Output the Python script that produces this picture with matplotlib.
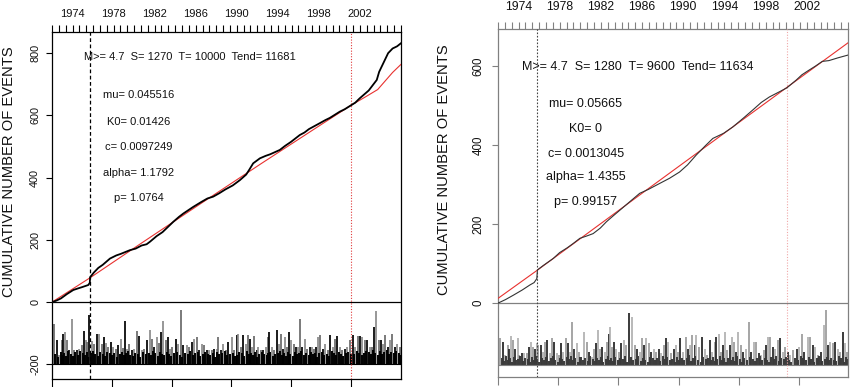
import matplotlib
matplotlib.use('Agg')
import matplotlib.pyplot as plt
import numpy as np

plt.rcParams['font.family'] = ['Liberation Sans', 'DejaVu Sans']

# ---------------- data: left panel ----------------
left_tend = 11681
left_S = 1270
left_T = 10000
left_t0 = 1973.0
left_header = "M>= 4.7  S= 1270  T= 10000  Tend= 11681"
left_params = ["mu= 0.045516", "K0= 0.01426", "c= 0.0097249", "alpha= 1.1792", "p= 1.0764"]

left_obs_day = [0, 150, 300, 500, 712, 900, 1000, 1214, 1265, 1275, 1400, 1550, 1700, 1940,
                2150, 2300, 2609, 2800, 3000, 3167, 3278, 3500, 3700, 4058, 4250, 4400, 4727,
                5000, 5200, 5396, 5600, 5800, 6050, 6288, 6500, 6600, 6733, 6957, 7150, 7300,
                7625, 7800, 8000, 8294, 8450, 8600, 8963, 9150, 9300, 9632, 9800, 10000, 10150,
                10300, 10600, 10870, 10950, 11050, 11250, 11400, 11550, 11681]
left_obs_cnt = [0, 5, 12, 26, 39, 45, 48, 55, 62, 80, 95, 110, 120, 140,
                150, 155, 167, 172, 182, 186, 194, 212, 225, 258, 274, 285, 306,
                322, 333, 339, 350, 362, 375, 392, 410, 425, 446, 462, 470, 475,
                489, 502, 515, 537, 545, 556, 575, 585, 592, 612, 620, 632, 641,
                655, 680, 714, 740, 760, 800, 815, 822, 832]
left_mod_day = [0, 1270, 3000, 5000, 7000, 9000, 10000, 10500, 10900, 11100, 11400, 11681]
left_mod_cnt = [0, 78, 190, 318, 445, 570, 632, 660, 683, 705, 738, 764]

left_bar_day = [67, 156, 245, 323, 379, 435, 490, 569, 669, 736,
                825, 914, 992, 1070, 1137, 1182, 1249, 1327, 1405, 1494,
                1583, 1661, 1739, 1806, 1884, 1973, 2052, 2130, 2219, 2297,
                2364, 2431, 2498, 2587, 2665, 2743, 2832, 2910, 2999, 3077,
                3189, 3278, 3345, 3423, 3501, 3590, 3646, 3724, 3802, 3869,
                3947, 4025, 4148, 4226, 4315, 4393, 4505, 4594, 4672, 4750,
                4839, 4917, 5006, 5084, 5174, 5263, 5341, 5419, 5508, 5564,
                5642, 5731, 5820, 5898, 6009, 6098, 6176, 6232, 6310, 6399,
                6477, 6544, 6622, 6700, 6767, 6845, 6901, 6990, 7068, 7146,
                7213, 7269, 7347, 7436, 7514, 7592, 7659, 7737, 7793, 7882,
                7938, 8016, 8094, 8183, 8239, 8317, 8384, 8462, 8551, 8629,
                8707, 8774, 8852, 8908, 8986, 9075, 9153, 9243, 9321, 9410,
                9488, 9555, 9633, 9711, 9800, 9878, 9967, 10079, 10157, 10246,
                10324, 10391, 10469, 10558, 10636, 10714, 10781, 10859, 10937, 11004,
                11082, 11160, 11250, 11328, 11394, 11473, 11562, 11640]
left_bar_top = [-71, -122, -170, -122, -101, -95, -122, -154, -55, -154,
                -154, -152, -138, -93, -122, -127, -42, -124, -133, -101,
                -104, -133, -111, -131, -143, -127, -143, -149, -138, -117,
                -147, -60, -149, -133, -154, -149, -93, -109, -154, -149,
                -122, -88, -117, -143, -111, -131, -95, -61, -122, -111,
                -149, -143, -117, -133, -26, -138, -138, -143, -127, -117,
                -111, -154, -133, -138, -154, -154, -154, -149, -149, -111,
                -154, -133, -154, -127, -111, -154, -106, -101, -143, -106,
                -133, -106, -117, -143, -109, -154, -143, -154, -154, -143,
                -111, -95, -143, -154, -88, -133, -101, -149, -111, -143,
                -95, -122, -133, -143, -143, -55, -143, -120, -149, -143,
                -143, -149, -143, -111, -106, -149, -133, -154, -106, -143,
                -117, -109, -143, -154, -149, -143, -122, -106, -143, -109,
                -109, -111, -122, -122, -143, -143, -79, -28, -122, -122,
                -133, -106, -143, -122, -101, -143, -133, -143]
left_small_day = [110, 200, 285, 350, 405, 460, 530, 620, 700, 780,
                  870, 950, 1030, 1100, 1160, 1215, 1290, 1365, 1450, 1540,
                  1620, 1700, 1770, 1845, 1930, 2010, 2090, 2175, 2260, 2330,
                  2400, 2465, 2540, 2625, 2705, 2790, 2870, 2955, 3040, 3130,
                  3235, 3310, 3385, 3460, 3545, 3620, 3685, 3765, 3835, 3910,
                  3985, 4085, 4185, 4270, 4355, 4450, 4550, 4635, 4710, 4795,
                  4880, 4960, 5045, 5130, 5220, 5300, 5380, 5465, 5535, 5600,
                  5685, 5775, 5860, 5950, 6050, 6140, 6205, 6270, 6355, 6440,
                  6510, 6585, 6660, 6735, 6805, 6875, 6945, 7030, 7105, 7180,
                  7240, 7310, 7390, 7475, 7555, 7625, 7700, 7765, 7840, 7910,
                  7975, 8055, 8140, 8210, 8280, 8350, 8425, 8505, 8590, 8670,
                  8740, 8815, 8880, 8945, 9030, 9115, 9200, 9280, 9365, 9450,
                  9520, 9595, 9670, 9755, 9840, 9920, 10020, 10120, 10200, 10285,
                  10360, 10430, 10515, 10600, 10675, 10750, 10820, 10900, 10970, 11045,
                  11120, 11205, 11290, 11360, 11435, 11520, 11600, 11665]
left_small_top = [-168, -175, -160, -170, -163, -172, -158, -166, -174, -161,
                  -169, -157, -165, -171, -160, -176, -163, -158, -168, -172,
                  -161, -167, -174, -159, -165, -170, -162, -177, -166, -160,
                  -171, -164, -158, -169, -173, -162, -166, -175, -160, -168,
                  -163, -171, -157, -165, -174, -161, -168, -170, -159, -166,
                  -172, -163, -160, -169, -175, -162, -167, -158, -171, -165,
                  -161, -173, -166, -159, -168, -170, -163, -176, -160, -167,
                  -164, -158, -171, -166, -162, -174, -169, -160, -165, -172,
                  -158, -167, -163, -170, -161, -175, -166, -159, -168, -171,
                  -164, -160, -173, -167, -162, -158, -169, -165, -172, -161,
                  -166, -174, -160, -168, -163, -157, -170, -165, -171, -159,
                  -167, -162, -175, -164, -160, -169, -166, -172, -158, -165,
                  -170, -161, -167, -173, -163, -159, -168, -166, -156, -162,
                  -171, -165, -158, -160, -167, -155, -163, -170, -158, -166,
                  -161, -154, -168, -160, -165, -157, -163, -170]

# ---------------- data: right panel ----------------
right_tend = 11634
right_S = 1280
right_T = 9600
right_t0 = 1973.2
right_header = "M>= 4.7  S= 1280  T= 9600  Tend= 11634"
right_params = ["mu= 0.05665", "K0= 0", "c= 0.0013045", "alpha= 1.4355", "p= 0.99157"]

right_obs_day = [0, 250, 508, 800, 1061, 1200, 1290, 1310, 1500, 1835, 2050, 2300, 2500,
                 2720, 2950, 3162, 3400, 3604, 3800, 4046, 4400, 4710, 5000, 5373, 5700,
                 6036, 6300, 6590, 6900, 7142, 7500, 7805, 8150, 8469, 8750, 9022, 9353,
                 9600, 9917, 10100, 10300, 10550, 10780, 11000, 11300, 11634]
right_obs_cnt = [0, 9, 20, 33, 46, 52, 62, 84, 95, 113, 128, 140, 151,
                 164, 170, 176, 190, 206, 219, 235, 258, 278, 288, 303, 316,
                 332, 350, 375, 399, 417, 430, 446, 468, 489, 508, 522, 535,
                 545, 565, 578, 588, 600, 612, 614, 621, 628]
right_mod_day = [0, 1300, 5000, 9600, 11634]
right_mod_cnt = [12, 83, 290, 546, 659]

right_bar_day = [66, 177, 232, 321, 365, 431, 487, 564, 652, 708,
                 785, 874, 951, 1029, 1095, 1172, 1228, 1283, 1338, 1416,
                 1504, 1560, 1637, 1725, 1803, 1869, 1947, 2024, 2090, 2168,
                 2245, 2311, 2389, 2466, 2533, 2610, 2688, 2754, 2865, 2942,
                 3019, 3108, 3196, 3274, 3329, 3395, 3462, 3550, 3628, 3683,
                 3738, 3805, 3860, 3937, 4015, 4103, 4181, 4247, 4358, 4457,
                 4546, 4623, 4712, 4789, 4855, 4933, 5010, 5099, 5176, 5265,
                 5342, 5431, 5508, 5574, 5652, 5760, 5838, 5904, 5982, 6059,
                 6147, 6236, 6313, 6391, 6457, 6535, 6590, 6678, 6789, 6866,
                 6944, 7032, 7121, 7198, 7253, 7331, 7419, 7475, 7552, 7618,
                 7696, 7784, 7840, 7917, 7994, 8061, 8138, 8227, 8337, 8415,
                 8503, 8581, 8669, 8747, 8835, 8912, 8979, 9045, 9134, 9211,
                 9300, 9377, 9465, 9543, 9631, 9709, 9797, 9941, 10018, 10107,
                 10184, 10295, 10372, 10461, 10549, 10627, 10737, 10826, 10903, 10959,
                 11036, 11124, 11202, 11290, 11368, 11456, 11534, 11589]
right_bar_top = [-89, -98, -132, -106, -115, -83, -94, -115, -89, -132,
                 -127, -127, -127, -111, -98, -111, -115, -102, -106, -106,
                 -123, -98, -94, -127, -89, -98, -127, -132, -102, -123,
                 -89, -102, -123, -47, -115, -102, -123, -136, -73, -98,
                 -123, -136, -115, -102, -68, -115, -111, -123, -98, -77,
                 -60, -111, -98, -115, -123, -102, -94, -106, -26, -35,
                 -106, -115, -123, -89, -106, -89, -102, -123, -115, -123,
                 -115, -127, -106, -89, -98, -127, -115, -106, -123, -89,
                 -123, -85, -115, -106, -81, -106, -81, -111, -85, -115,
                 -132, -94, -123, -98, -85, -77, -123, -106, -73, -119,
                 -106, -85, -98, -123, -73, -106, -123, -115, -47, -123,
                 -98, -98, -127, -132, -119, -106, -87, -85, -111, -115,
                 -94, -89, -123, -111, -123, -132, -119, -115, -111, -77,
                 -123, -85, -85, -106, -111, -132, -123, -56, -18, -106,
                 -98, -102, -98, -115, -123, -73, -102, -123]
right_small_day = [120, 205, 275, 345, 400, 460, 525, 610, 680, 745,
                   830, 910, 990, 1060, 1135, 1200, 1255, 1310, 1375, 1460,
                   1530, 1600, 1680, 1765, 1835, 1910, 1985, 2055, 2130, 2205,
                   2280, 2350, 2430, 2500, 2570, 2650, 2720, 2810, 2905, 2980,
                   3065, 3150, 3235, 3300, 3360, 3430, 3505, 3590, 3655, 3710,
                   3770, 3830, 3900, 3975, 4060, 4140, 4215, 4300, 4410, 4500,
                   4585, 4665, 4750, 4820, 4895, 4970, 5055, 5140, 5220, 5300,
                   5385, 5470, 5540, 5615, 5705, 5800, 5870, 5945, 6020, 6105,
                   6190, 6275, 6350, 6425, 6495, 6560, 6635, 6735, 6830, 6905,
                   6990, 7075, 7160, 7225, 7290, 7375, 7445, 7515, 7585, 7655,
                   7740, 7810, 7880, 7955, 8030, 8100, 8180, 8280, 8375, 8460,
                   8540, 8625, 8710, 8790, 8875, 8945, 9010, 9090, 9170, 9255,
                   9340, 9420, 9505, 9585, 9670, 9750, 9870, 9980, 10060, 10145,
                   10240, 10335, 10415, 10505, 10590, 10680, 10780, 10865, 10930, 10995,
                   11080, 11165, 11245, 11330, 11410, 11495, 11560, 11620]
right_small_top = [-140, -147, -135, -143, -138, -149, -136, -144, -141, -133,
                   -146, -139, -142, -150, -137, -145, -134, -141, -148, -138,
                   -143, -136, -147, -140, -135, -144, -149, -138, -142, -146,
                   -137, -141, -133, -145, -139, -148, -136, -143, -140, -147,
                   -134, -142, -146, -138, -144, -137, -149, -141, -135, -143,
                   -140, -147, -136, -145, -139, -142, -133, -148, -137, -144,
                   -141, -135, -146, -138, -143, -150, -136, -140, -145, -139,
                   -147, -134, -142, -137, -144, -141, -148, -136, -143, -139,
                   -145, -138, -132, -146, -140, -135, -143, -149, -137, -142,
                   -139, -144, -136, -147, -141, -133, -145, -138, -150, -140,
                   -143, -137, -146, -134, -142, -148, -139, -144, -136, -141,
                   -147, -140, -135, -143, -138, -145, -149, -137, -142, -134,
                   -146, -139, -141, -136, -144, -148, -138, -143, -135, -140,
                   -145, -137, -142, -150, -139, -134, -147, -141, -136, -144,
                   -138, -143, -146, -135, -140, -148, -137, -142]

year_labels = [1974, 1978, 1982, 1986, 1990, 1994, 1998, 2002]

# ---------------- drawing ----------------
fig = plt.figure(figsize=(8.5, 3.87), dpi=100)
W, H = 850.0, 387.0


def panel(px_left, px_right, px_top, px_bottom, tend, ylim, base, yticks, t0,
          obs_d, obs_c, mod_d, mod_c, bar_d, bar_t, sm_d, sm_t, S, T,
          header, params, head_pos, par_x, par_y, fs_text, fs_tick, fs_year,
          frame_col, obs_col, obs_lw, bar_cols, small_col, sdash, tcol, ylab_xy,
          year_pad, ytick_pad, ylab_fs):
    ax = fig.add_axes([px_left / W, 1 - px_bottom / H,
                       (px_right - px_left) / W, (px_bottom - px_top) / H])
    ax.set_xlim(0, tend)
    ax.set_ylim(*ylim)
    for sp in ax.spines.values():
        sp.set_color(frame_col)
        sp.set_linewidth(0.9)
    # bars (events)
    cols = [bar_cols[i % len(bar_cols)] for i in range(len(bar_d))]
    ax.vlines(bar_d, base, bar_t, colors=cols, lw=1.25, zorder=2)
    ax.vlines(sm_d, base, sm_t, colors=small_col, lw=1.4, zorder=2)
    ax.axhline(base, color=frame_col, lw=0.8, zorder=2)
    ax.axhline(0, color=frame_col, lw=0.9, zorder=3)
    # vertical markers
    ax.axvline(S, color=sdash[0], lw=sdash[1], ls=sdash[2], zorder=4)
    ax.axvline(T, color=tcol, lw=0.8, ls=(0, (1, 1.5)), zorder=4)
    # cumulative curves
    ax.plot(mod_d, mod_c, color='#e8312f', lw=0.8, zorder=5)
    ax.plot(obs_d, obs_c, color=obs_col, lw=obs_lw, zorder=6)
    # texts
    ax.text(head_pos[0], head_pos[1], header, transform=ax.transAxes,
            ha='center', va='center', fontsize=fs_text, color='#111111')
    for s, yy in zip(params, par_y):
        ax.text(par_x, yy, s, transform=ax.transAxes, ha='center', va='center',
                fontsize=fs_text, color='#111111')
    # y axis
    ax.set_yticks(yticks)
    ax.set_yticklabels([str(v) for v in yticks], rotation=90, va='center')
    ax.tick_params(axis='y', direction='out', length=4.5, width=0.8,
                   colors=frame_col, labelcolor='#111111', labelsize=fs_tick,
                   pad=ytick_pad)
    # bottom axis ticks (labels fall outside the picture)
    ax.set_xticks([0, 2000, 4000, 6000, 8000, 10000])
    ax.tick_params(axis='x', direction='out', length=6, width=0.8,
                   colors=frame_col, labelbottom=False)
    # top year axis
    axt = ax.twiny()
    axt.set_xlim(t0, t0 + tend / 365.25)
    ticks = np.arange(year_labels[0] - 2, 2006.01, 2.0 / 3.0)
    axt.set_xticks(ticks)
    axt.set_xticklabels([str(int(round(v))) if any(abs(v - y) < 1e-6 for y in year_labels) else ''
                         for v in ticks])
    axt.tick_params(axis='x', direction='out', length=5, width=0.8,
                    colors=frame_col, labelcolor='#111111', labelsize=fs_year,
                    pad=year_pad)
    for sp in axt.spines.values():
        sp.set_visible(False)
    fig.text(ylab_xy[0] / W, 1 - ylab_xy[1] / H, "CUMULATIVE NUMBER OF EVENTS",
             rotation=90, ha='center', va='center', fontsize=ylab_fs, color='#111111')
    return ax


panel(52, 401, 32, 379, left_tend, (-247, 868), -200, [-200, 0, 200, 400, 600, 800],
      left_t0, left_obs_day, left_obs_cnt, left_mod_day, left_mod_cnt,
      left_bar_day, left_bar_top, left_small_day, left_small_top, left_S, left_T,
      left_header, left_params, (0.395, 0.928), 0.248,
      [0.818, 0.742, 0.668, 0.595, 0.523], 8, 7.8, 8.0,
      'black', 'black', 1.3, ['#6a6a6a', 'black', '#8a8a8a'], 'black',
      ('black', 0.9, (0, (3, 2))), '#e03a3a', (9, 172), 4.5, 4, 10.6)

panel(498, 848, 29, 377, right_tend, (-187, 694), -157, [0, 200, 400, 600],
      right_t0, right_obs_day, right_obs_cnt, right_mod_day, right_mod_cnt,
      right_bar_day, right_bar_top, right_small_day, right_small_top, right_S, right_T,
      right_header, right_params, (0.40, 0.891), 0.251,
      [0.784, 0.712, 0.640, 0.576, 0.502], 9, 8.3, 8.8,
      '#808080', '#333333', 0.8, ['#9a9a9a', '#222222', '#b0b0b0'], '#3a3a3a',
      ('#444444', 0.8, (0, (1.5, 1.5))), '#f0a8a8', (444, 170), 6.5, 5, 10.6)

fig.savefig('out.png', dpi=100)
